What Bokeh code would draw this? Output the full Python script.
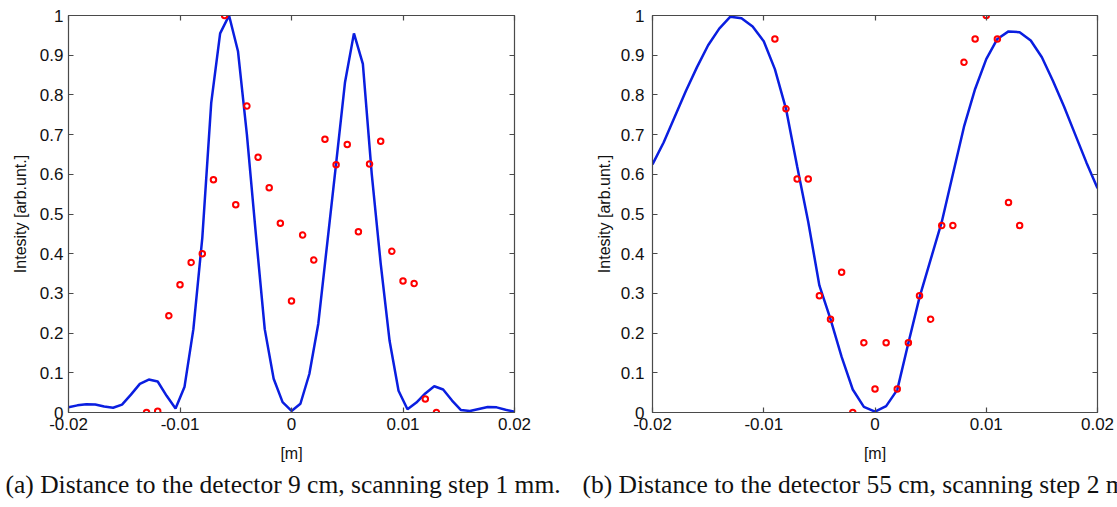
from bokeh.plotting import figure
from bokeh.models import LinearAxis, Range1d, FixedTicker, Title, CustomJSTickFormatter
from bokeh.layouts import row
from bokeh.embed import file_html
from bokeh.resources import INLINE

# ---------------- data ----------------
# (a) distance 9 cm, step 1 mm
a_line_x = [-0.0200, -0.0192, -0.0184, -0.0176, -0.0168, -0.0160, -0.0152, -0.0144, -0.0136,
            -0.0128, -0.0120, -0.0112, -0.0104, -0.0096, -0.0088, -0.0080, -0.0072, -0.0064,
            -0.0056, -0.0048, -0.0040, -0.0032, -0.0024, -0.0016, -0.0008, 0.0000, 0.0008,
            0.0016, 0.0024, 0.0032, 0.0040, 0.0048, 0.0056, 0.0064, 0.0072, 0.0080, 0.0088,
            0.0096, 0.0104, 0.0112, 0.0120, 0.0128, 0.0136, 0.0144, 0.0152, 0.0160, 0.0168,
            0.0176, 0.0184, 0.0192, 0.0200]
a_line_y = [0.013, 0.018, 0.021, 0.020, 0.015, 0.012, 0.020, 0.045, 0.072, 0.083, 0.078, 0.042,
            0.010, 0.064, 0.21, 0.44, 0.78, 0.955, 1.0, 0.91, 0.70, 0.45, 0.21, 0.085, 0.026,
            0.004, 0.022, 0.097, 0.223, 0.425, 0.627, 0.832, 0.955, 0.878, 0.60, 0.375, 0.18,
            0.055, 0.008, 0.025, 0.048, 0.066, 0.058, 0.030, 0.006, 0.004, 0.009, 0.014, 0.013,
            0.007, 0.002]
a_pts_x = [-0.013, -0.012, -0.011, -0.010, -0.009, -0.008, -0.007, -0.006, -0.005, -0.004,
           -0.003, -0.002, -0.001, 0.000, 0.001, 0.002, 0.003, 0.004, 0.005, 0.006, 0.007,
           0.008, 0.009, 0.010, 0.011, 0.012, 0.013]
a_pts_y = [0.0, 0.003, 0.244, 0.322, 0.378, 0.400, 0.586, 1.0, 0.523, 0.772, 0.643, 0.566,
           0.477, 0.281, 0.447, 0.384, 0.688, 0.624, 0.675, 0.455, 0.626, 0.683, 0.406, 0.331,
           0.325, 0.034, 0.0]

# (b) distance 55 cm, step 2 mm
b_line_x = [-0.020, -0.019, -0.018, -0.017, -0.016, -0.015, -0.014, -0.013, -0.012, -0.011,
            -0.010, -0.009, -0.008, -0.007, -0.006, -0.005, -0.004, -0.003, -0.002, -0.001,
            0.000, 0.001, 0.002, 0.003, 0.004, 0.005, 0.006, 0.007, 0.008, 0.009, 0.010,
            0.011, 0.012, 0.013, 0.014, 0.015, 0.016, 0.017, 0.018, 0.019, 0.020]
b_line_y = [0.625, 0.68, 0.745, 0.81, 0.87, 0.925, 0.967, 0.997, 0.993, 0.972, 0.935, 0.865,
            0.765, 0.62, 0.48, 0.32, 0.235, 0.14, 0.058, 0.014, 0.002, 0.016, 0.057, 0.175,
            0.29, 0.385, 0.48, 0.60, 0.72, 0.815, 0.89, 0.941, 0.960, 0.958, 0.937, 0.895,
            0.835, 0.77, 0.70, 0.63, 0.565]
b_pts_x = [-0.009, -0.008, -0.007, -0.006, -0.005, -0.004, -0.003, -0.002, -0.001, 0.000,
           0.001, 0.002, 0.003, 0.004, 0.005, 0.006, 0.007, 0.008, 0.009, 0.010, 0.011,
           0.012, 0.013]
b_pts_y = [0.941, 0.765, 0.588, 0.588, 0.294, 0.235, 0.353, 0.0, 0.176, 0.059, 0.176, 0.059,
           0.176, 0.294, 0.235, 0.471, 0.471, 0.882, 0.941, 1.0, 0.941, 0.529, 0.471]

x_ticks = [-0.02, -0.01, 0.0, 0.01, 0.02]
y_ticks = [0.0, 0.1, 0.2, 0.3, 0.4, 0.5, 0.6, 0.7, 0.8, 0.9, 1.0]

x_title = "[m]"
y_title = "Intesity [arb.unt.]"
caption_a = "(a) Distance to the detector 9 cm, scanning step 1 mm."
caption_b = "(b) Distance to the detector 55 cm, scanning step 2 mm."

# ---------------- style ----------------
AX = "#4a4a4a"
BLUE = "#0a1ee0"
RED = "#ff0000"
SANS = "Liberation Sans"
SERIF = "Liberation Serif"

fmt_code = "return tick.toFixed(2).replace(/\\.?0+$/, '');"


def style_axis(ax, ticks, show_labels, standoff=5):
    ax.ticker = FixedTicker(ticks=ticks)
    ax.axis_line_color = AX
    ax.axis_line_width = 1.2
    ax.major_tick_line_color = AX
    ax.major_tick_line_width = 1.2
    ax.major_tick_in = 5
    ax.major_tick_out = 0
    ax.minor_tick_line_color = None
    if show_labels:
        ax.formatter = CustomJSTickFormatter(code=fmt_code)
        ax.major_label_text_font = SANS
        ax.major_label_text_font_size = "17px"
        ax.major_label_text_color = "#111111"
        ax.major_label_standoff = standoff
    else:
        ax.major_label_text_font_size = "1px"
        ax.major_label_text_color = None
        ax.major_label_standoff = 0


def make_panel(lx, ly, px, py, caption, ml, mr, fw, ytick_standoff, ylab_standoff, cap_dx):
    p = figure(frame_width=fw, frame_height=397,
               x_range=Range1d(-0.02, 0.02), y_range=Range1d(0, 1),
               output_backend="svg", toolbar_location=None,
               min_border_left=ml, min_border_right=mr,
               min_border_top=15, min_border_bottom=93)
    p.grid.visible = False
    p.outline_line_color = AX
    p.background_fill_color = "white"
    p.border_fill_color = "white"

    style_axis(p.xaxis[0], x_ticks, True, standoff=5)
    style_axis(p.yaxis[0], y_ticks, True, standoff=ytick_standoff)
    p.xaxis[0].axis_label = x_title
    p.yaxis[0].axis_label = y_title
    for ax in (p.xaxis[0], p.yaxis[0]):
        ax.axis_label_text_font = SANS
        ax.axis_label_text_font_size = "16px"
        ax.axis_label_text_font_style = "normal"
        ax.axis_label_text_color = "#111111"
    p.xaxis[0].axis_label_standoff = 12
    p.yaxis[0].axis_label_standoff = ylab_standoff

    top = LinearAxis()
    right = LinearAxis()
    style_axis(top, x_ticks, False)
    style_axis(right, y_ticks, False)
    p.add_layout(top, "above")
    p.add_layout(right, "right")

    p.line(lx, ly, line_color=BLUE, line_width=2.5)
    p.scatter(px, py, marker="circle", size=5.5, fill_color=None,
              line_color=RED, line_width=2)

    p.add_layout(Title(text=caption, align="left", offset=cap_dx, standoff=6,
                       text_font=SERIF, text_font_size="25.5px", text_font_style="normal",
                       text_color="#111111"), "below")
    return p


pa = make_panel(a_line_x, a_line_y, a_pts_x, a_pts_y, caption_a,
                ml=68, mr=64, fw=446, ytick_standoff=5, ylab_standoff=8, cap_dx=-63)
pb = make_panel(b_line_x, b_line_y, b_pts_x, b_pts_y, caption_b,
                ml=74, mr=20, fw=445, ytick_standoff=8, ylab_standoff=5, cap_dx=-70)

layout = row(pa, pb)
open("out.html", "w").write(file_html(layout, INLINE))
